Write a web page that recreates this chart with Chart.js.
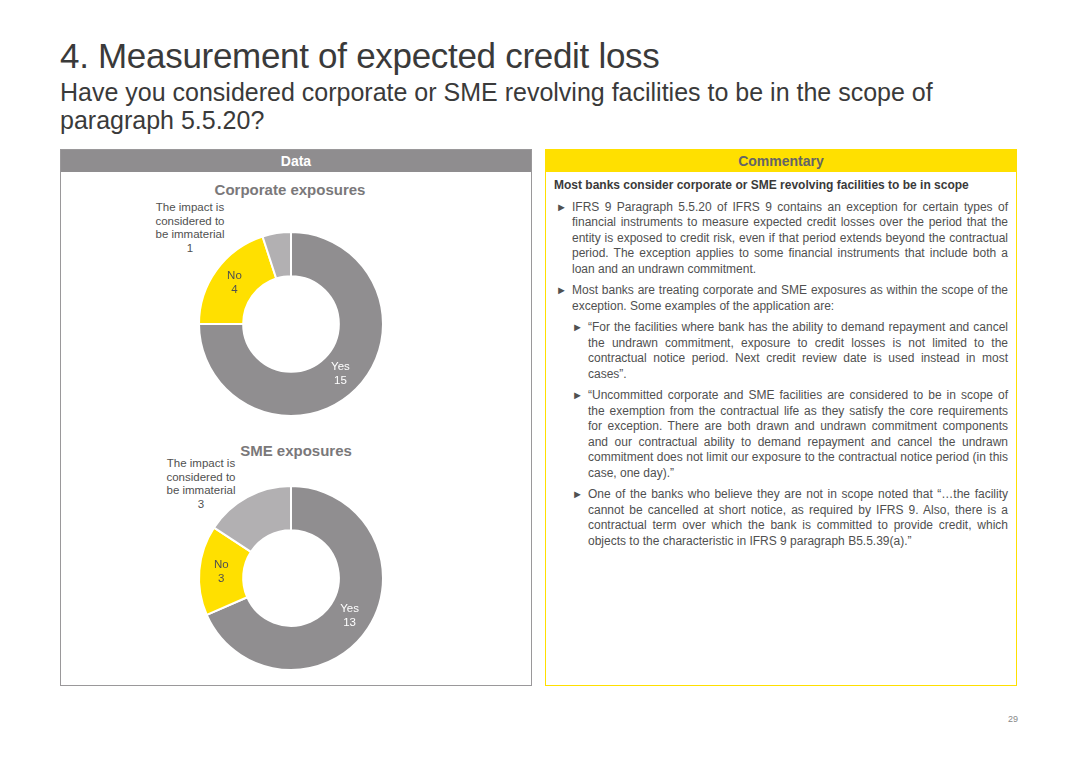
<!DOCTYPE html>
<html><head><meta charset="utf-8">
<script src="https://cdn.jsdelivr.net/npm/chart.js@4"></script>
<style>
body{margin:0;width:1080px;height:764px;background:#fff;font-family:"Liberation Sans",Arial,sans-serif;position:relative;overflow:hidden;color:#404040}
.abs{position:absolute}
h1{position:absolute;left:60px;top:36px;margin:0;font-weight:normal;font-size:35px;color:#3a3a3a;letter-spacing:-0.3px}
h2{position:absolute;left:60px;top:78px;margin:0;font-weight:normal;font-size:25px;line-height:28px;color:#3a3a3a;width:920px}
.box{position:absolute;top:149px;height:537px;width:472px;box-sizing:border-box}
.hd{height:22px;line-height:22px;text-align:center;font-weight:bold;font-size:14px}
.ct{font-size:15px;font-weight:bold;color:#7a787a;text-align:center;position:absolute}
.lbl{position:absolute;font-size:11.5px;color:#505050;text-align:center;line-height:13.5px}
.cm{position:absolute;left:10px;right:8px;font-size:12px;line-height:15.5px;color:#505050;text-align:justify}
.b{position:relative;padding-left:16px;margin-bottom:6px}
.b::before{content:"►";position:absolute;left:0;top:0;font-size:11px}
.s{margin-left:16px}
</style></head><body>
<h1>4. Measurement of expected credit loss</h1>
<h2>Have you considered corporate or SME revolving facilities to be in the scope of paragraph 5.5.20?</h2>

<div class="box" style="left:60px;border:1px solid #9a989a">
  <div class="hd" style="background:#8f8d8f;color:#fff">Data</div>
</div>
<div class="ct" style="left:190px;top:181px;width:200px">Corporate exposures</div>
<div class="ct" style="left:196px;top:442px;width:200px">SME exposures</div>
<div class="lbl" style="left:140px;top:201px;width:100px">The impact is<br>considered to<br>be immaterial<br>1</div>
<div class="lbl" style="left:151px;top:457px;width:100px">The impact is<br>considered to<br>be immaterial<br>3</div>
<canvas id="c1" class="abs" style="left:141px;top:194px;width:300px;height:260px"></canvas>
<canvas id="c2" class="abs" style="left:141px;top:448px;width:300px;height:260px"></canvas>

<div class="box" style="left:545px;border:1.5px solid #ffe000">
  <div class="hd" style="background:#ffe000;color:#646466">Commentary</div>
  <div class="cm" style="top:28px">
    <div style="font-weight:bold;color:#3a3a3a;margin-bottom:6px;text-align:left;margin-left:-2px">Most banks consider corporate or SME revolving facilities to be in scope</div>
    <div class="b">IFRS 9 Paragraph 5.5.20 of IFRS 9 contains an exception for certain types of financial instruments to measure expected credit losses over the period that the entity is exposed to credit risk, even if that period extends beyond the contractual period. The exception applies to some financial instruments that include both a loan and an undrawn commitment.</div>
    <div class="b">Most banks are treating corporate and SME exposures as within the scope of the exception. Some examples of the application are:</div>
    <div class="b s">“For the facilities where bank has the ability to demand repayment and cancel the undrawn commitment, exposure to credit losses is not limited to the contractual notice period. Next credit review date is used instead in most cases”.</div>
    <div class="b s">“Uncommitted corporate and SME facilities are considered to be in scope of the exemption from the contractual life as they satisfy the core requirements for exception. There are both drawn and undrawn commitment components and our contractual ability to demand repayment and cancel the undrawn commitment does not limit our exposure to the contractual notice period (in this case, one day).”</div>
    <div class="b s">One of the banks who believe they are not in scope noted that “…the facility cannot be cancelled at short notice, as required by IFRS 9. Also, there is a contractual term over which the bank is committed to provide credit, which objects to the characteristic in IFRS 9 paragraph B5.5.39(a).”</div>
  </div>
</div>
<div class="abs" style="left:1008px;top:714px;font-size:9px;color:#888">29</div>

<script>
const categories = ['Yes', 'No', 'The impact is considered to be immaterial']
const corporateValues = [15, 4, 1]
const smeValues = [13, 3, 3]
const colors = ['#908e90', '#ffe000', '#b2b0b2']
const insideLabels = [true, true, false]

const labelPlugin = {
  id: 'inLabels',
  afterDatasetsDraw(chart) {
    const ctx = chart.ctx
    const meta = chart.getDatasetMeta(0)
    const vals = chart.data.datasets[0].data
    ctx.save()
    ctx.font = '11.5px "Liberation Sans", Arial, sans-serif'
    ctx.textAlign = 'center'
    ctx.textBaseline = 'middle'
    meta.data.forEach((arc, i) => {
      if (!insideLabels[i]) return
      const p = arc.tooltipPosition()
      ctx.fillStyle = i === 0 ? '#ffffff' : '#505050'
      ctx.fillText(categories[i], p.x, p.y - 7)
      ctx.fillText(String(vals[i]), p.x, p.y + 7)
    })
    ctx.restore()
  },
}

const makeDonut = (id, values) => new Chart(document.getElementById(id), {
  type: 'doughnut',
  data: { labels: categories, datasets: [{ data: values, backgroundColor: colors, borderColor: '#fff', borderWidth: 2 }] },
  options: {
    responsive: false,
    animation: false,
    cutout: '52%',
    layout: { padding: { left: 57, right: 57, top: 37, bottom: 37 } },
    plugins: { legend: { display: false }, tooltip: { enabled: false } },
  },
  plugins: [labelPlugin],
})

for (const id of ['c1', 'c2']) {
  const c = document.getElementById(id)
  c.width = 300; c.height = 260
}
makeDonut('c1', corporateValues)
makeDonut('c2', smeValues)
</script>
</body></html>
